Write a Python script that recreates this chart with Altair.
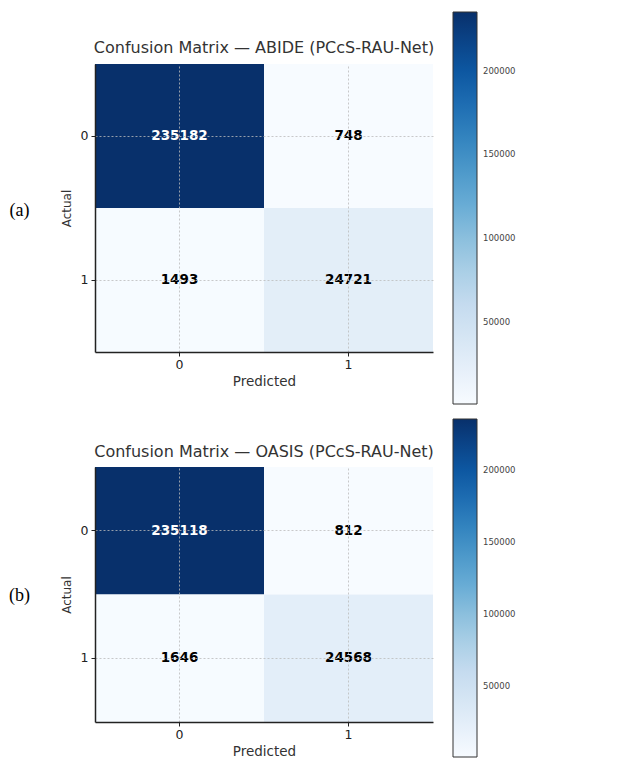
import altair as alt
import pandas as pd

# ---- data ----
actual = ["0", "0", "1", "1"]
predicted = ["0", "1", "0", "1"]
abide_counts = [235182, 748, 1493, 24721]
oasis_counts = [235118, 812, 1646, 24568]
titles = ["Confusion Matrix — ABIDE (PCcS-RAU-Net)",
          "Confusion Matrix — OASIS (PCcS-RAU-Net)"]
tags = ["(a)", "(b)"]
colorbar_ticks = [50000, 100000, 150000, 200000]

# matplotlib "Blues" colormap stops
blues = ['#f7fbff', '#deebf7', '#c6dbef', '#9ecae1', '#6baed6',
         '#4292c6', '#2171b5', '#08519c', '#08306b']

FONT = "DejaVu Sans"
PLOT_W = 338


def panel(counts, title, tag, h, leg_len, leg_y, tag_y, title_y):
    df = pd.DataFrame({"Actual": actual, "Predicted": predicted, "n": counts})
    lo, hi = min(counts), max(counts)
    dom = [lo + (hi - lo) * i / 8 for i in range(9)]

    x_axis = alt.Axis(orient="bottom", bandPosition=0.5, grid=True,
                      gridDash=[2, 2], gridColor="#bbbbbb", gridWidth=0.8,
                      domainColor="#222222", domainWidth=1.5,
                      tickColor="#222222", tickSize=4, labelAngle=0,
                      labelFont=FONT, labelFontSize=12.5, labelColor="#222222",
                      labelPadding=2, titleFont=FONT, titleFontSize=13.5,
                      titleColor="#333333", titleFontWeight="normal",
                      titlePadding=4, zindex=1)
    y_axis = alt.Axis(orient="left", bandPosition=0.5, grid=True,
                      gridDash=[2, 2], gridColor="#bbbbbb", gridWidth=0.8,
                      domainColor="#222222", domainWidth=1.5,
                      tickColor="#222222", tickSize=4, labelAngle=0,
                      labelFont=FONT, labelFontSize=12.5, labelColor="#222222",
                      labelPadding=3, titleFont=FONT, titleFontSize=12,
                      titleColor="#333333", titleFontWeight="normal",
                      titlePadding=7, zindex=1)

    base = alt.Chart(df).encode(
        x=alt.X("Predicted:N", title="Predicted",
                scale=alt.Scale(paddingInner=0, paddingOuter=0), axis=x_axis),
        y=alt.Y("Actual:N", title="Actual",
                scale=alt.Scale(paddingInner=0, paddingOuter=0), axis=y_axis),
    )
    rect = base.mark_rect().encode(
        color=alt.Color(
            "n:Q",
            scale=alt.Scale(domain=dom, range=blues),
            legend=alt.Legend(orient="none", legendX=358, legendY=leg_y,
                              direction="vertical", gradientLength=leg_len,
                              gradientThickness=24,
                              gradientStrokeColor="#333333",
                              gradientStrokeWidth=1, title=None,
                              values=colorbar_ticks, format="d",
                              labelFont=FONT, labelFontSize=8.5,
                              labelColor="#444444", labelOffset=6,
                              labelOverlap=False),
        )
    )
    text = base.mark_text(font=FONT, fontWeight="bold", fontSize=13.5).encode(
        text=alt.Text("n:Q", format="d"),
        color=alt.condition(alt.datum.n > (lo + hi) / 2,
                            alt.value("white"), alt.value("black")),
    )
    label_df = pd.DataFrame({"tag": [tag], "title": [title]})
    tag_text = alt.Chart(label_df).mark_text(
        font="Liberation Serif", fontSize=18, color="black", align="center",
        baseline="middle"
    ).encode(text="tag:N", x=alt.value(-75.5), y=alt.value(tag_y))
    title_text = alt.Chart(label_df).mark_text(
        font=FONT, fontSize=16, color="#333333", align="center",
        baseline="middle"
    ).encode(text="title:N", x=alt.value(PLOT_W / 2), y=alt.value(title_y))

    return alt.layer(rect, text, tag_text, title_text).properties(
        width=PLOT_W, height=h,
    )


pa = panel(abide_counts, titles[0], tags[0], 288, 392, -52, 147, -16)
pb = panel(oasis_counts, titles[1], tags[1], 255, 338, -48, 129, -15)

chart = alt.vconcat(pa, pb, spacing=12).resolve_scale(
    color="independent"
).properties(
    padding={"left": 0, "top": 3, "right": 0, "bottom": 0}
).configure_view(stroke="transparent")

chart.save("out.html", embed_options={"renderer": "svg", "actions": False})
